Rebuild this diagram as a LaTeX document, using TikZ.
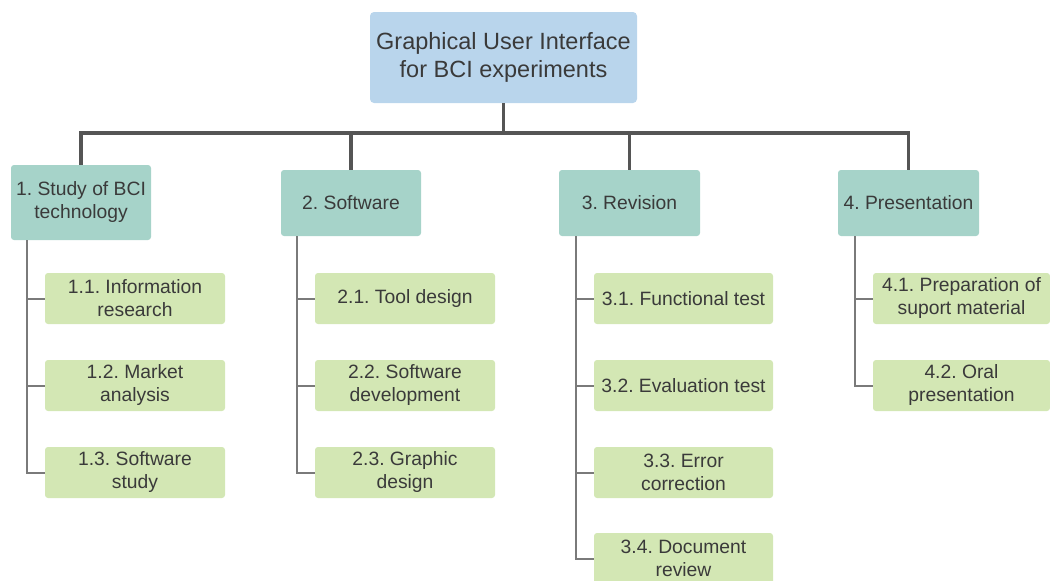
\documentclass[tikz,border=0pt]{standalone}
\usepackage{fontspec}
\setmainfont{Liberation Sans}
\definecolor{topblue}{HTML}{B9D5EC}
\definecolor{mainteal}{HTML}{A6D3C9}
\definecolor{subgreen}{HTML}{D3E7B4}
\definecolor{txtgray}{HTML}{3A3A3A}
\definecolor{busgray}{HTML}{555555}
\definecolor{linegray}{HTML}{7A7A7A}
\tikzset{
  topbox/.style={fill=topblue, rounded corners=4pt, minimum width=267pt, minimum height=91pt,
    inner sep=2pt, align=center, text=txtgray, font=\fontsize{23.5}{28}\selectfont},
  mainbox/.style={fill=mainteal, rounded corners=3pt, minimum width=140pt, minimum height=66pt,
    inner sep=1pt, align=center, text=txtgray, font=\fontsize{19.3}{23}\selectfont},
  subbox/.style={fill=subgreen, rounded corners=3pt, minimum width=180pt, minimum height=51pt,
    inner sep=1pt, align=center, text=txtgray, font=\fontsize{19.3}{23}\selectfont},
  bus/.style={draw=busgray, line width=3.5pt},
  branch/.style={draw=linegray, line width=2pt}
}
\begin{document}
\begin{tikzpicture}[x=1pt, y=-1pt]
\useasboundingbox (0,0) rectangle (1050,581);

% Top node
\node[topbox] (gui) at (503.5,57.5) {Graphical User Interface\\for BCI experiments};

% Main work packages
\node[mainbox, minimum height=75pt] (study) at (81,202.5) {1.\ Study of BCI\\technology};
\node[mainbox] (soft) at (351,203) {2.\ Software};
\node[mainbox, minimum width=141pt] (rev) at (629.5,203) {3.\ Revision};
\node[mainbox, minimum width=141pt] (pres) at (908.5,203) {4.\ Presentation};

% Sub packages 1
\node[subbox] (info) at (135,298.5) {1.1.\ Information\\research};
\node[subbox] (market) at (135,385.5) {1.2.\ Market\\analysis};
\node[subbox] (swstudy) at (135,472.5) {1.3.\ Software\\study};

% Sub packages 2
\node[subbox] (tool) at (405,298.5) {2.1.\ Tool design};
\node[subbox] (swdev) at (405,385.5) {2.2.\ Software\\development};
\node[subbox] (graph) at (405,472.5) {2.3.\ Graphic\\design};

% Sub packages 3
\node[subbox, minimum width=179pt] (func) at (683.5,298.5) {3.1.\ Functional test};
\node[subbox, minimum width=179pt] (eval) at (683.5,385.5) {3.2.\ Evaluation test};
\node[subbox, minimum width=179pt] (error) at (683.5,472.5) {3.3.\ Error\\correction};
\node[subbox, minimum width=179pt] (doc) at (683.5,558.5) {3.4.\ Document\\review};

% Sub packages 4
\node[subbox, minimum width=177pt] (prep) at (961.5,298.5) {4.1.\ Preparation of\\suport material};
\node[subbox, minimum width=177pt] (oral) at (961.5,385.5) {4.2.\ Oral\\presentation};

% Bus lines
\coordinate (hub) at (503.5,133);
\draw[bus] (gui.south) -- (hub);
\draw[bus] (hub) -| (study.north);
\draw[bus] (hub) -| (soft.north);
\draw[bus] (hub) -| (rev.north);
\draw[bus] (hub) -| (pres.north);

% Branch lines
\draw[branch] ([xshift=16pt]study.south west) |- (info.west);
\draw[branch] ([xshift=16pt]study.south west) |- (market.west);
\draw[branch] ([xshift=16pt]study.south west) |- (swstudy.west);
\draw[branch] ([xshift=16pt]soft.south west) |- (tool.west);
\draw[branch] ([xshift=16pt]soft.south west) |- (swdev.west);
\draw[branch] ([xshift=16pt]soft.south west) |- (graph.west);
\draw[branch] ([xshift=17pt]rev.south west) |- (func.west);
\draw[branch] ([xshift=17pt]rev.south west) |- (eval.west);
\draw[branch] ([xshift=17pt]rev.south west) |- (error.west);
\draw[branch] ([xshift=17pt]rev.south west) |- (doc.west);
\draw[branch] ([xshift=17pt]pres.south west) |- (prep.west);
\draw[branch] ([xshift=17pt]pres.south west) |- (oral.west);

\end{tikzpicture}
\end{document}
